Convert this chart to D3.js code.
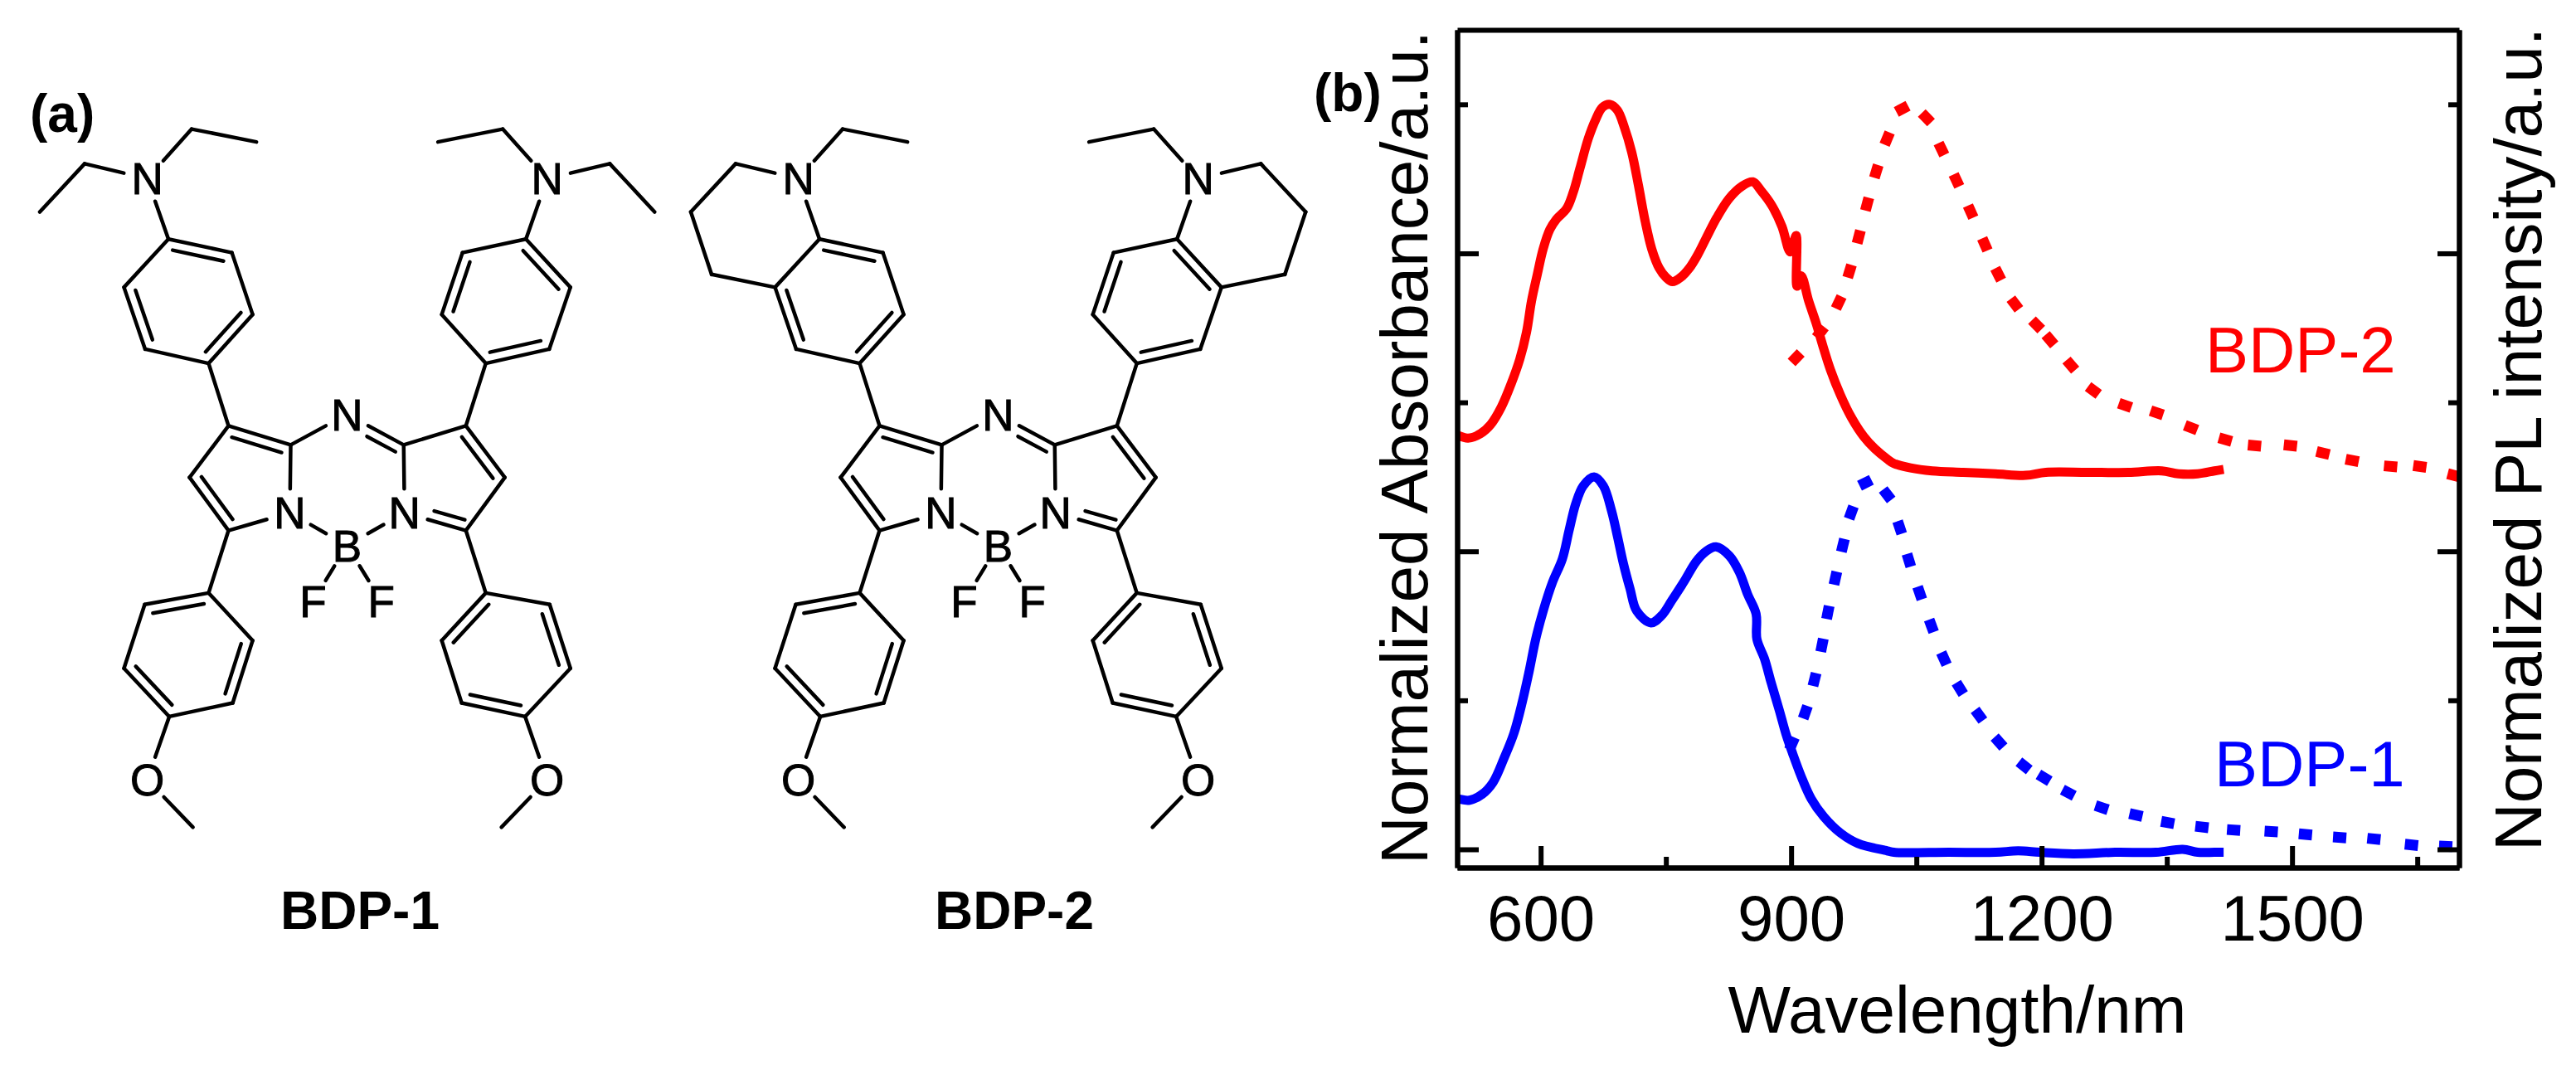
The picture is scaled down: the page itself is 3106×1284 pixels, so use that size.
<!DOCTYPE html>
<html>
<head>
<meta charset="utf-8">
<script src="https://cdn.jsdelivr.net/npm/d3@7"></script>
<style>
  body { margin: 0; background: white; }
  text { font-family: "Liberation Sans", Arial, sans-serif; }
</style>
</head>
<body>
<script>
// spectra: wavelength in nm, y in axis units (one unit = one tick)
var absWl2 = [500,513,528,540,553,565,575,583,589,596,603,611,619,631,639,647,657,666,674,683,692,700,709,717,725,733,742,750,758,768,778,788,798,811,826,841,854,864,877,889,899,906,907,912,921,930,939,947,959,972,987,1000,1015,1023,1043,1069,1106,1145,1181,1205,1255,1304,1344,1364,1387,1407,1418];
var absVal2 = [2.78,2.76,2.79,2.85,2.97,3.13,3.29,3.47,3.68,3.86,4.03,4.16,4.23,4.30,4.41,4.57,4.77,4.90,4.98,5.00,4.96,4.85,4.68,4.46,4.22,4.03,3.90,3.84,3.81,3.84,3.90,3.99,4.10,4.24,4.37,4.45,4.48,4.42,4.32,4.18,4.01,4.12,3.78,3.85,3.68,3.53,3.36,3.22,3.05,2.90,2.77,2.69,2.62,2.59,2.56,2.54,2.53,2.52,2.51,2.53,2.53,2.53,2.54,2.52,2.52,2.54,2.55];
var absWl1 = [500,515,530,543,556,568,578,586,594,603,614,626,634,642,651,664,675,685,692,699,707,715,732,745,757,772,786,798,810,826,838,848,858,859,868,876,886,894,902,912,924,939,959,980,1015,1023,1089,1145,1172,1198,1238,1288,1337,1369,1387,1407,1418];
var absVal1 = [0.34,0.33,0.37,0.45,0.61,0.78,0.99,1.19,1.41,1.60,1.79,1.95,2.14,2.32,2.44,2.50,2.44,2.27,2.10,1.92,1.75,1.60,1.52,1.57,1.67,1.80,1.93,2.00,2.03,1.97,1.86,1.71,1.58,1.41,1.28,1.12,0.93,0.77,0.64,0.49,0.34,0.22,0.11,0.04,-0.01,-0.02,-0.02,-0.02,-0.01,-0.02,-0.03,-0.02,-0.02,0,-0.02,-0.02,-0.02];
var plWl2 = [906,935,957,970,981,991,1002,1015,1033,1062,1080,1098,1115,1132,1148,1168,1194,1210,1235,1262,1300,1338,1379,1420,1455,1498,1537,1572,1618,1653,1694];
var plVal2 = [3.30,3.47,3.67,3.88,4.11,4.33,4.55,4.77,4.97,4.91,4.70,4.49,4.28,4.06,3.86,3.66,3.52,3.42,3.25,3.08,2.98,2.93,2.83,2.75,2.71,2.71,2.66,2.61,2.57,2.57,2.51];
var plWl1 = [901,917,928,937,944,953,962,972,989,1015,1030,1041,1054,1068,1083,1102,1125,1149,1179,1203,1232,1272,1313,1351,1392,1430,1475,1516,1557,1598,1643,1684];
var plVal1 = [0.71,0.92,1.14,1.37,1.59,1.82,2.04,2.26,2.46,2.38,2.16,1.94,1.72,1.50,1.28,1.08,0.90,0.72,0.56,0.48,0.38,0.28,0.23,0.18,0.15,0.13,0.12,0.10,0.08,0.07,0.03,0.02];

var xMajor = [600,900,1200,1500];
var xMinor = [750,1050,1350,1650];
var yMajor = [0,2,4];
var yMinor = [1,3,5];

// molecule drawing, left half of BDP-1 (right half is the mirror image)
var atomNames = ["Ca","Cb","Cc","Cd","Nl","F","a1","a2","a3","a4","a5","a6","Na","e1","e2","e3","e4","q","b1","b2","b3","b4","b5","b6","O","m","cU","cL","cP"];
var atomX = [687,540,448,540,685,740,493,597,548,398,293,343,348,453,606,200,94,143,493,597,550,400,293,342,348,456,445,445,545];
var atomY = [655,627,703,781,755,885,535,463,372,352,423,514,263,190,209,241,312,404,873,943,1035,1055,984,890,1148,1218,443,963,704];
var midNames = ["Nb","B","cS"];
var midX = [820,820,820];
var midY = [610,803,710];

var singles = ["Nb Ca","Ca Nl","Cb Cc","Cd Nl","Nl B","B F","Cb a1","Cd b1","a4 Na","Na e1","e1 e2","Na e3","e3 e4","b4 O","O m",
  "a2 a3","a4 a5","a6 a1","b1 b2","b3 b4","b5 b6",
  "rCa rNl","rCa rCb","rCc rCd","rNl B","B rF","rCb ra1","rCd rb1","ra4 rNa","rNa re1","re1 re2","rNa re3","re3 re4","rb4 rO","rO rm",
  "ra1 ra2","ra3 ra4","ra5 ra6","rb2 rb3","rb4 rb5","rb6 rb1"];
var doubles = ["a1 a2 cU","a3 a4 cU","a5 a6 cU","b2 b3 cL","b4 b5 cL","b6 b1 cL","Ca Cb cP","Cc Cd cP",
  "Nb rCa cS","rCb rCc rcP","rCd rNl rcP","ra4 ra5 rcU","ra3 ra2 rcU","ra1 ra6 rcU","rb1 rb2 rcL","rb4 rb3 rcL","rb6 rb5 rcL"];
var ringBonds2 = ["e4 q","q a5","re4 rq","rq ra5"];
var labelNames = ["Nb","Nl","rNl","Na","rNa","B","F","rF","O","rO"];
var labelText = ["N","N","N","N","N","B","F","F","O","O"];

window.onload = function() {
  var svg = d3.select("body").append("svg")
    .attr("width", 3106).attr("height", 1284);

  var w = 3106, h = 1284;
  svg.append("rect").attr("width", w).attr("height", h).attr("fill", "white");

  drawMolecule(0, false);
  drawMolecule(785, true);

  svg.append("text").attr("x", 36).attr("y", 159).attr("font-size", 64).attr("font-weight", "bold").text("(a)");
  svg.append("text").attr("x", 434).attr("y", 1120).attr("text-anchor", "middle").attr("font-size", 64).attr("font-weight", "bold").text("BDP-1");
  svg.append("text").attr("x", 1223).attr("y", 1120).attr("text-anchor", "middle").attr("font-size", 64).attr("font-weight", "bold").text("BDP-2");

  // molecule
  function drawMolecule(shift, closeRing) {
    var sx = d3.scaleLinear().domain([0, 1568]).range([shift, shift + 800]);
    var sy = d3.scaleLinear().domain([0, 1568]).range([0, 1284]);
    var g = svg.append("g").attr("class", "molecule");

    var atoms = {};
    midNames.forEach(function(n, i) { atoms[n] = [sx(midX[i]), sy(midY[i])]; });
    atomNames.forEach(function(n, i) {
      atoms[n] = [sx(atomX[i]), sy(atomY[i])];
      atoms["r" + n] = [sx(1641 - atomX[i]), sy(atomY[i])];
    });
    var labelled = new Set(labelNames);

    function trim(a, b) {
      var p = atoms[a], q = atoms[b];
      var dx = q[0] - p[0], dy = q[1] - p[1], len = Math.hypot(dx, dy);
      var t0 = labelled.has(a) ? 29 / len : 0;
      var t1 = labelled.has(b) ? 29 / len : 0;
      return [p[0] + dx * t0, p[1] + dy * t0, p[0] + dx * (1 - t1), p[1] + dy * (1 - t1)];
    }
    function bond(c) {
      g.append("line").attr("x1", c[0]).attr("y1", c[1]).attr("x2", c[2]).attr("y2", c[3])
        .attr("stroke", "black").attr("stroke-width", 4.5).attr("stroke-linecap", "round");
    }

    var all = singles.concat(closeRing ? ringBonds2 : []);
    all.forEach(function(s) { var p = s.split(" "); bond(trim(p[0], p[1])); });

    doubles.forEach(function(s) {
      var p = s.split(" ");
      var c = trim(p[0], p[1]);
      bond(c);
      // inner line of the double bond, pushed to the ring centre
      var dx = c[2] - c[0], dy = c[3] - c[1], len = Math.hypot(dx, dy);
      var nx = -dy / len, ny = dx / len;
      var ctr = atoms[p[2]];
      if ((ctr[0] - c[0]) * nx + (ctr[1] - c[1]) * ny < 0) { nx = -nx; ny = -ny; }
      var off = 12, cut = 0.1;
      bond([c[0] + dx * cut + nx * off, c[1] + dy * cut + ny * off,
            c[2] - dx * cut + nx * off, c[3] - dy * cut + ny * off]);
    });

    labelNames.forEach(function(n, i) {
      g.append("text").attr("x", atoms[n][0]).attr("y", atoms[n][1]).attr("dy", "0.36em")
        .attr("text-anchor", "middle").attr("font-size", 53)
        .attr("stroke", "black").attr("stroke-width", 1)
        .text(labelText[i]);
    });
  }

  // spectra panel
  var left = 1757, right = 2965, top = 36, bottom = 1046;
  var xScale = d3.scaleLinear().domain([500, 1700]).range([left, right]);
  var yScale = d3.scaleLinear().domain([-0.1225, 5.5]).range([bottom, top]);

  var plot = svg.append("g").attr("class", "plot");

  svg.append("clipPath").attr("id", "plotclip").append("rect")
    .attr("x", left).attr("y", top).attr("width", right - left).attr("height", bottom - top);

  var line = d3.line()
    .x(function(d) { return xScale(d[0]); })
    .y(function(d) { return yScale(d[1]); })
    .curve(d3.curveCatmullRom.alpha(0.5));

  // absorbance, solid
  var solid = [
    { wl: absWl2, val: absVal2, color: "#ff0000" },
    { wl: absWl1, val: absVal1, color: "#0000ff" }
  ];
  plot.selectAll("path.spectrum").data(solid).enter().append("path")
    .attr("class", "spectrum")
    .attr("clip-path", "url(#plotclip)")
    .attr("d", function(s) { return line(s.wl.map(function(x, i) { return [x, s.val[i]]; })); })
    .attr("fill", "none")
    .attr("stroke", function(s) { return s.color; })
    .attr("stroke-width", 11)
    .attr("stroke-linejoin", "round");

  // PL, one short dash per reading, turned along the curve
  function drawDashes(wl, val, color) {
    var pts = wl.map(function(x, i) { return [xScale(x), yScale(val[i])]; });
    plot.append("g").attr("clip-path", "url(#plotclip)")
      .selectAll("line").data(pts).enter().append("line")
      .each(function(d, i) {
        var a = pts[Math.max(i - 1, 0)], b = pts[Math.min(i + 1, pts.length - 1)];
        var dx = b[0] - a[0], dy = b[1] - a[1], len = Math.hypot(dx, dy);
        d3.select(this)
          .attr("x1", d[0] - 8 * dx / len).attr("y1", d[1] - 8 * dy / len)
          .attr("x2", d[0] + 8 * dx / len).attr("y2", d[1] + 8 * dy / len);
      })
      .attr("stroke", color)
      .attr("stroke-width", 13);
  }
  drawDashes(plWl2, plVal2, "#ff0000");
  drawDashes(plWl1, plVal1, "#0000ff");

  function styleAxis(g) {
    g.selectAll("path").attr("stroke", "black").attr("stroke-width", 6);
    g.selectAll("line").attr("stroke", "black").attr("stroke-width", 6);
    g.selectAll("text").attr("fill", "black");
  }

  // x axis, major ticks carry the labels
  plot.append("g").attr("transform", "translate(0," + bottom + ")")
    .call(d3.axisBottom(xScale).tickValues(xMajor).tickSize(-26).tickSizeOuter(0).tickPadding(33).tickFormat(d3.format("d")))
    .call(styleAxis)
    .call(function(g) {
      g.selectAll("text").attr("font-size", 78).attr("font-family", "Liberation Sans");
    });
  plot.append("g").attr("transform", "translate(0," + bottom + ")")
    .call(d3.axisBottom(xScale).tickValues(xMinor).tickSize(-13).tickSizeOuter(0).tickFormat(""))
    .call(styleAxis);

  // top edge
  plot.append("g").attr("transform", "translate(0," + top + ")")
    .call(d3.axisTop(xScale).tickValues([]).tickSizeOuter(0))
    .call(styleAxis);

  // left and right axes, no labels
  plot.append("g").attr("transform", "translate(" + left + ",0)")
    .call(d3.axisLeft(yScale).tickValues(yMajor).tickSize(-26).tickSizeOuter(0).tickFormat(""))
    .call(styleAxis);
  plot.append("g").attr("transform", "translate(" + left + ",0)")
    .call(d3.axisLeft(yScale).tickValues(yMinor).tickSize(-13).tickSizeOuter(0).tickFormat(""))
    .call(styleAxis);
  plot.append("g").attr("transform", "translate(" + right + ",0)")
    .call(d3.axisRight(yScale).tickValues(yMajor).tickSize(-26).tickSizeOuter(0).tickFormat(""))
    .call(styleAxis);
  plot.append("g").attr("transform", "translate(" + right + ",0)")
    .call(d3.axisRight(yScale).tickValues(yMinor).tickSize(-13).tickSizeOuter(0).tickFormat(""))
    .call(styleAxis);

  plot.append("text").attr("x", 2360).attr("y", 1245).attr("text-anchor", "middle").attr("font-size", 80).text("Wavelength/nm");

  plot.append("text").attr("transform", "translate(1721,1042) rotate(-90)").attr("font-size", 80).text("Normalized Absorbance/a.u.");
  plot.append("text").attr("transform", "translate(3064,1026) rotate(-90)").attr("font-size", 80).text("Normalized PL intensity/a.u.");

  plot.append("text").attr("x", 1584).attr("y", 134).attr("font-size", 64).attr("font-weight", "bold").text("(b)");
  plot.append("text").attr("x", 2659).attr("y", 449).attr("font-size", 78).attr("fill", "#ff0000").text("BDP-2");
  plot.append("text").attr("x", 2670).attr("y", 948).attr("font-size", 78).attr("fill", "#0000ff").text("BDP-1");
};
</script>
</body>
</html>
